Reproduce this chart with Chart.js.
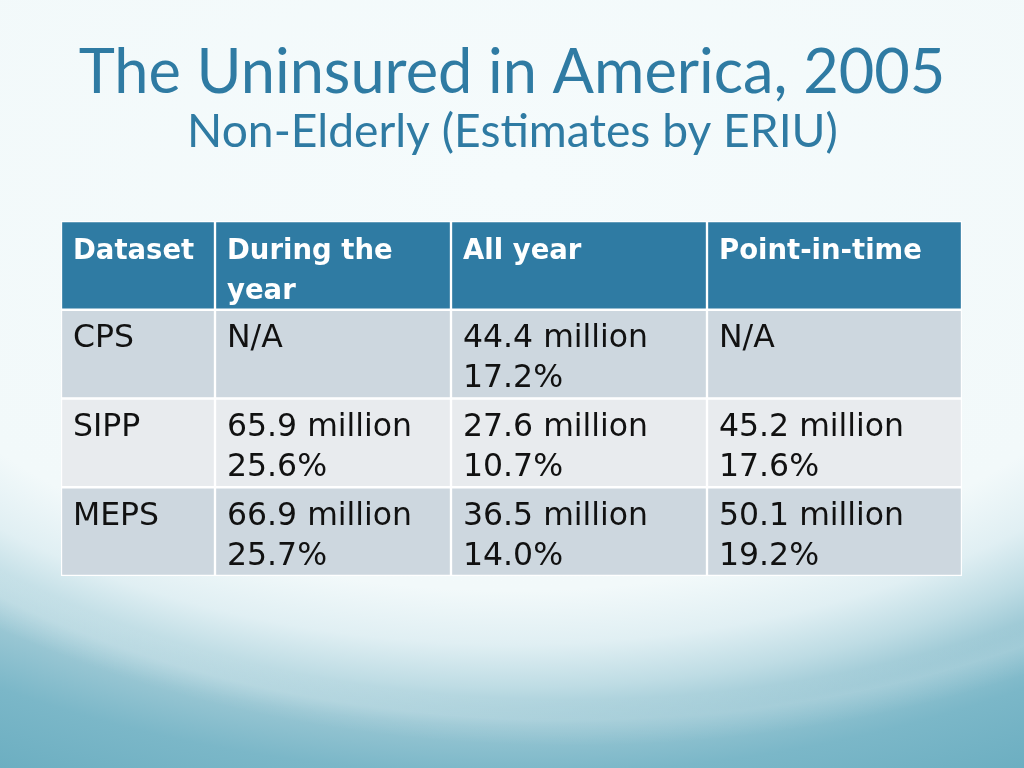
<!DOCTYPE html>
<html>
<head>
<meta charset="utf-8">
<script src="https://cdn.jsdelivr.net/npm/chart.js@4/dist/chart.umd.min.js"></script>
<style>
html,body{margin:0;padding:0;}
body{
  width:1024px;height:768px;overflow:hidden;position:relative;
  background:
    radial-gradient(ellipse 880px 520px at 570px 200px, rgba(255,255,255,0) 0%, rgba(255,255,255,0) 96%, rgba(255,255,255,0.15) 100%, rgba(255,255,255,0) 105%),
    radial-gradient(ellipse 900px 540px at 512px 180px, #F5FBFC 0%, #F2F9FA 76%, #E0EFF3 86%, #BEDCE4 94%, #98C6D3 101%, #7BB7C8 110%, #6AADC0 125%);
}
#wrap{position:absolute;left:0;top:0;width:1024px;height:768px;}
</style>
</head>
<body>
<div id="wrap"><canvas id="c" width="1024" height="768"></canvas></div>
<script>
// ---- data ----
const titleText = 'The Uninsured in America, 2005';
const subtitleText = 'Non-Elderly (Estimates by ERIU)';
const columnHeaders = [['Dataset'], ['During the', 'year'], ['All year'], ['Point-in-time']];
const datasetNames = ['CPS', 'SIPP', 'MEPS'];
const duringYearMillions = [null, 65.9, 66.9];
const duringYearPct = [null, 25.6, 25.7];
const allYearMillions = [44.4, 27.6, 36.5];
const allYearPct = [17.2, 10.7, 14.0];
const pointInTimeMillions = [null, 45.2, 50.1];
const pointInTimePct = [null, 17.6, 19.2];

// ---- derived table ----
function cellLines(m, p) {
  return m == null ? ['N/A'] : [m.toFixed(1) + ' million', p.toFixed(1) + '%'];
}
const rowLabels = ['header'].concat(datasetNames);
const tableRows = [columnHeaders].concat(datasetNames.map((name, i) => [
  [name],
  cellLines(duringYearMillions[i], duringYearPct[i]),
  cellLines(allYearMillions[i], allYearPct[i]),
  cellLines(pointInTimeMillions[i], pointInTimePct[i])
]));

// ---- layout & style ----
const colEdges = [0, 154, 390, 646, 901];
const HEADER_BG = '#2F7BA3';
const ROW_A = '#CDD7DF';
const ROW_B = '#E8EBEE';
const TITLE_COLOR = '#2F7BA3';

const tablePlugin = {
  id: 'tableText',
  afterDatasetsDraw(chart) {
    const ctx = chart.ctx;
    const xs = chart.scales.x, ys = chart.scales.y;
    const rowH = ys.getPixelForValue(1) - ys.getPixelForValue(0);
    ctx.save();
    ctx.textAlign = 'left';
    ctx.textBaseline = 'alphabetic';
    tableRows.forEach((row, r) => {
      const top = ys.getPixelForValue(r) - rowH / 2;
      row.forEach((lines, c) => {
        const x = xs.getPixelForValue(colEdges[c]) + 12;
        if (r === 0) {
          ctx.font = 'bold 27.5px "DejaVu Sans"';
          ctx.fillStyle = '#FFFFFF';
        } else {
          ctx.font = '31.5px "DejaVu Sans"';
          ctx.fillStyle = '#111111';
        }
        lines.forEach((t, k) => ctx.fillText(t, x, top + 37.5 + k * 40));
      });
    });
    // title & subtitle
    ctx.textAlign = 'center';
    ctx.fillStyle = TITLE_COLOR;
    const fit = (text, weight, family, width) => {
      ctx.font = `${weight} 100px ${family}`;
      return 100 * width / ctx.measureText(text).width;
    };
    let s = fit(titleText, 400, 'Lato', 867);
    ctx.font = `400 ${s}px Lato`;
    ctx.fillText(titleText, 512, 93);
    s = fit(subtitleText, 400, 'Lato', 651);
    ctx.font = `400 ${s}px Lato`;
    ctx.fillText(subtitleText, 512.5, 147);
    ctx.restore();
  }
};

new Chart(document.getElementById('c'), {
  type: 'bar',
  data: {
    labels: rowLabels,
    datasets: columnHeaders.map((h, c) => ({
      label: h.join(' '),
      data: rowLabels.map(() => [colEdges[c], colEdges[c + 1]]),
      backgroundColor: rowLabels.map((_, i) => i === 0 ? HEADER_BG : (i % 2 ? ROW_A : ROW_B)),
      borderColor: '#FFFFFF',
      borderWidth: 1.5,
      borderSkipped: false,
      barPercentage: 1,
      categoryPercentage: 1,
      grouped: false
    }))
  },
  options: {
    indexAxis: 'y',
    responsive: false,
    animation: false,
    devicePixelRatio: 1,
    layout: { padding: { left: 61, right: 62, top: 221, bottom: 192 } },
    scales: {
      x: { type: 'linear', min: 0, max: 901, display: false },
      y: { type: 'category', display: false, offset: true }
    },
    plugins: {
      legend: { display: false },
      tooltip: { enabled: false },
      title: { display: false }
    }
  },
  plugins: [tablePlugin]
});
</script>
</body>
</html>
